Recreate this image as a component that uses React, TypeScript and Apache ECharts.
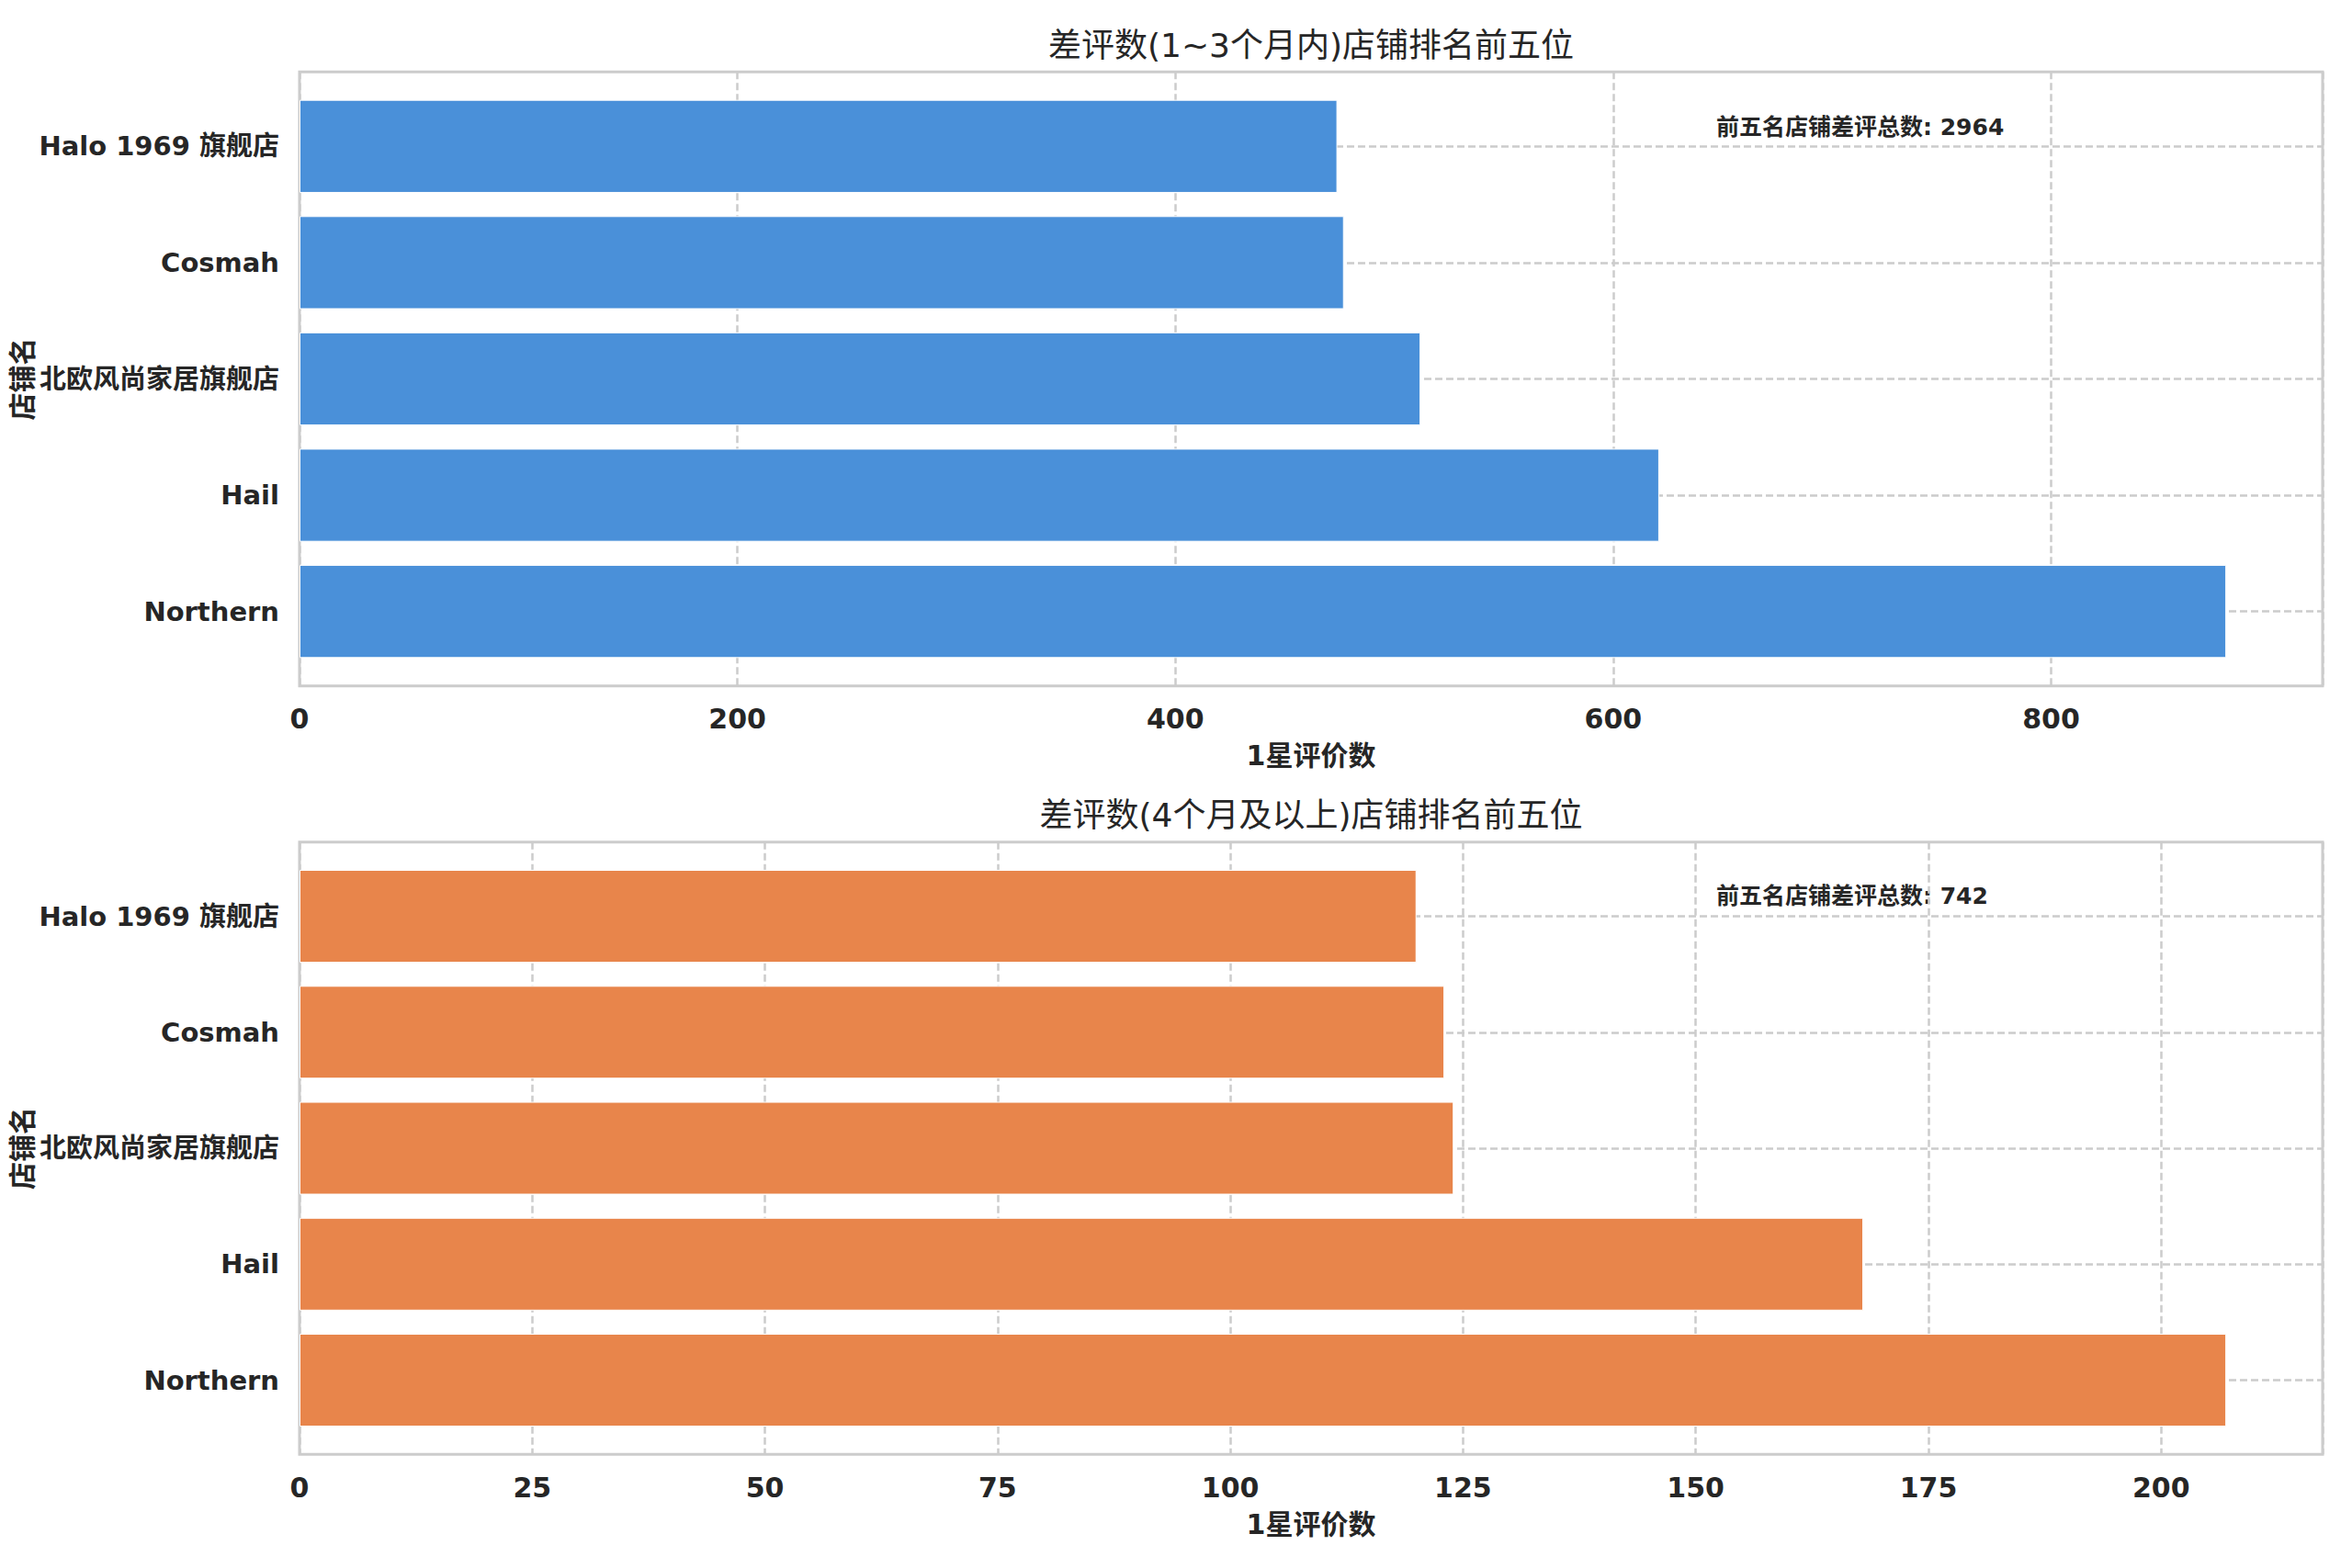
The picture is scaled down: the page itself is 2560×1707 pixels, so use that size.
import React, { useEffect, useRef } from "react";
import * as echarts from "echarts";

// ---- data (categories listed bottom -> top, as the axis draws them) ----
const stores = ["Northern", "Hail", "北欧风尚家居旗舰店", "Cosmah", "Halo 1969 旗舰店"];
const recentCounts = [880, 621, 512, 477, 474]; // 1~3个月内
const olderCounts = [207, 168, 124, 123, 120]; // 4个月及以上

const titleRecent = "差评数(1~3个月内)店铺排名前五位";
const titleOlder = "差评数(4个月及以上)店铺排名前五位";
const xName = "1星评价数";
const yName = "店铺名";
const totalLabel = "前五名店铺差评总数";
const recentInterval = 200;
const olderInterval = 25;

const FONT = "'DejaVu Sans', 'Noto Sans CJK SC', sans-serif";
const TEXT = "#262626";
const GRID_COLOR = "#cccccc";

export default function App() {
  const ref = useRef<HTMLDivElement>(null);

  useEffect(() => {
    if (!ref.current) return;
    const chart = echarts.init(ref.current, undefined, { renderer: "svg" });

    const LEFT = 326;
    const RIGHT = 32;
    const panels = [
      { values: recentCounts, interval: recentInterval, color: "#4a90d9", title: titleRecent, frameTop: 78.3, frameH: 668.4, titleY: 49, noteY: 138 },
      { values: olderCounts, interval: olderInterval, color: "#e8854b", title: titleOlder, frameTop: 916.7, frameH: 666.6, titleY: 887, noteY: 975 },
    ];

    const grid: any[] = [];
    const xAxis: any[] = [];
    const yAxis: any[] = [];
    const series: any[] = [];
    const title: any[] = [];
    const graphic: any[] = [];

    panels.forEach((p, i) => {
      const max = Math.max(...p.values) * 1.05;
      const unit = p.frameH / (stores.length + 0.28);
      const inset = 0.14 * unit;
      const outer = 2 * i;
      const inner = 2 * i + 1;
      grid.push({ left: LEFT, right: RIGHT, top: p.frameTop, height: p.frameH, show: true, borderColor: GRID_COLOR, borderWidth: 3, backgroundColor: "transparent" });
      grid.push({ left: LEFT, right: RIGHT, top: p.frameTop + inset, height: stores.length * unit });

      xAxis.push({
        gridIndex: outer, type: "value", min: 0, max, interval: p.interval,
        axisLine: { show: false }, axisTick: { show: false },
        axisLabel: {
          fontSize: 30, fontWeight: "bold", color: TEXT, fontFamily: FONT, margin: 21,
          formatter: (v: number) => (Math.abs(v % p.interval) < 1e-9 ? String(v) : ""),
        },
        splitLine: { show: true, lineStyle: { color: GRID_COLOR, width: 2.5, type: [8, 4] } },
        name: xName, nameLocation: "middle", nameGap: 61,
        nameTextStyle: { fontSize: 30, fontWeight: "bold", color: TEXT, fontFamily: FONT },
      });
      xAxis.push({ gridIndex: inner, type: "value", min: 0, max, show: false });

      yAxis.push({ gridIndex: outer, type: "value", min: 0, max: 1, show: false });
      yAxis.push({
        gridIndex: inner, type: "category", data: stores,
        axisLine: { show: false }, axisTick: { show: false }, splitLine: { show: false },
        axisLabel: { fontSize: 29, fontWeight: "bold", color: TEXT, fontFamily: FONT, margin: 22 },
        name: yName, nameLocation: "middle", nameGap: 287, nameRotate: 90, nameMoveOverlap: false,
        nameTextStyle: { fontSize: 30, fontWeight: "bold", color: TEXT, fontFamily: FONT },
      });

      series.push({
        type: "bar", xAxisIndex: inner, yAxisIndex: inner, data: p.values,
        barCategoryGap: "20%", z: 3,
        itemStyle: { color: p.color, borderColor: "#ffffff", borderWidth: 1 },
        markLine: {
          z: 1, silent: true, symbol: "none", label: { show: false },
          lineStyle: { color: GRID_COLOR, width: 2.5, type: [8, 4] },
          data: stores.map((s) => ({ yAxis: s })),
        },
      });

      title.push({
        text: p.title, left: 1422, top: p.titleY - 23, textAlign: "center",
        textStyle: { fontSize: 36, fontWeight: "normal", color: TEXT, fontFamily: FONT },
      });

      const total = p.values.reduce((a, b) => a + b, 0);
      graphic.push({
        type: "text", x: 1868, y: p.noteY,
        style: { text: `${totalLabel}: ${total}`, font: `bold 25px ${FONT}`, fill: TEXT, verticalAlign: "middle", align: "left" },
      });
    });

    chart.setOption({
      animation: false,
      backgroundColor: "#ffffff",
      textStyle: { fontFamily: FONT },
      title, grid, xAxis, yAxis, series, graphic,
    });

    return () => chart.dispose();
  }, []);

  return <div ref={ref} style={{ position: "fixed", left: 0, top: 0, width: 2560, height: 1707 }} />;
}
